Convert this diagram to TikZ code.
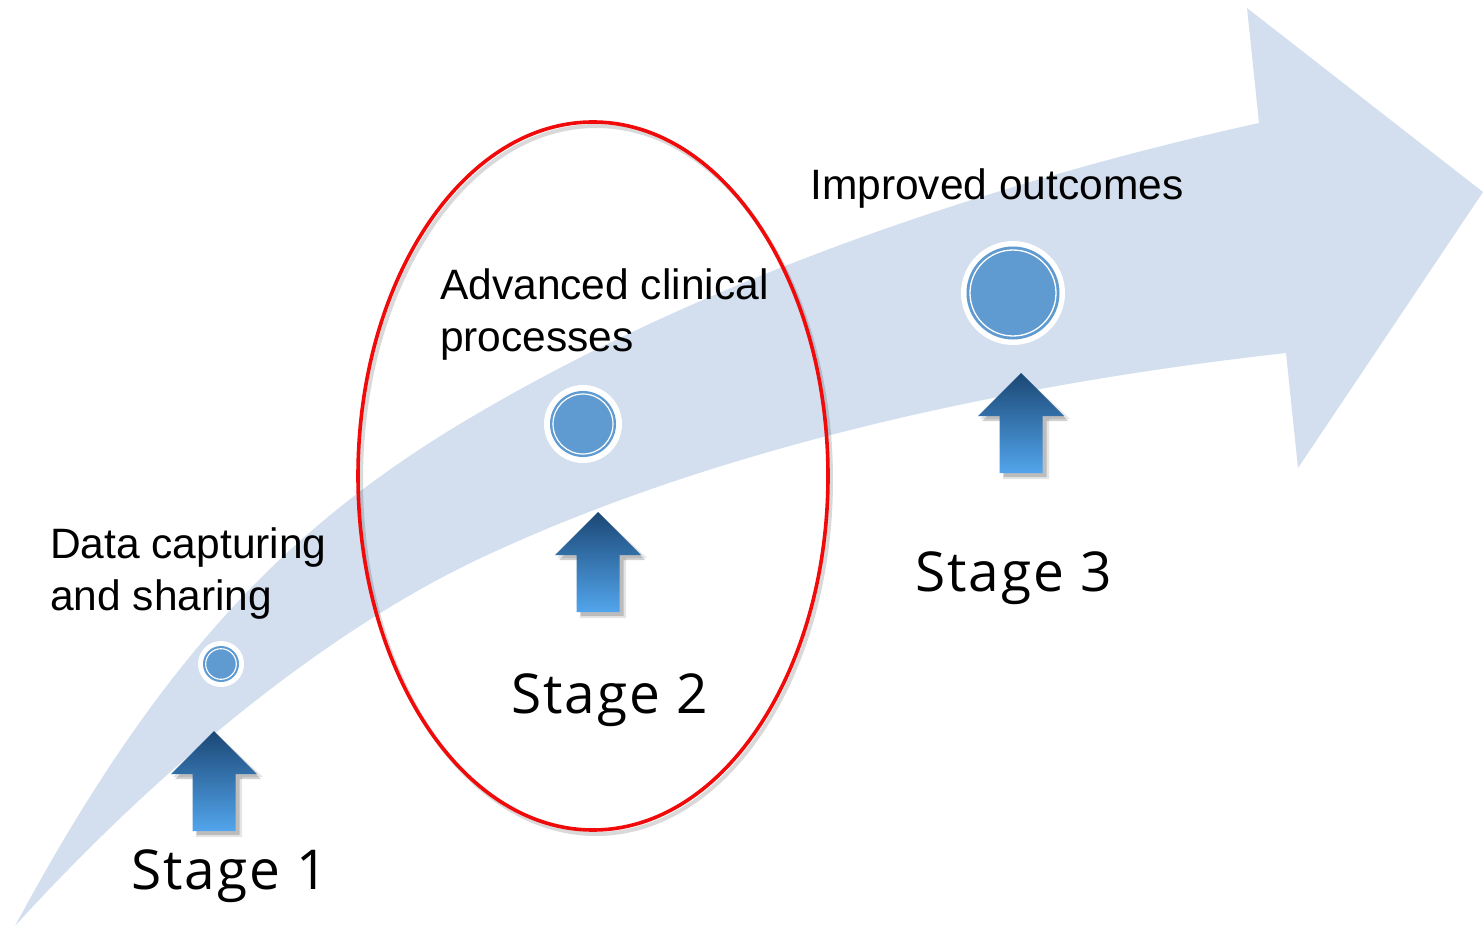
\documentclass[tikz,border=0pt]{standalone}
\usepackage{fontspec}
\usetikzlibrary{shapes.geometric}
\setmainfont{Liberation Sans}
\newfontfamily\stagefont[LetterSpace=3.5]{Open Sans}
\definecolor{bandblue}{HTML}{D3DFEE}
\definecolor{dotblue}{HTML}{5F9BD1}
\definecolor{arrowtop}{HTML}{1B4775}
\definecolor{arrowbot}{HTML}{52A5EC}
\definecolor{ringred}{HTML}{F00A0A}
\tikzset{
  desc/.style={anchor=base west, inner sep=0pt, align=left, font=\fontsize{42.5}{51.5}\selectfont, text=black},
  stagelabel/.style={anchor=base west, inner sep=0pt, font=\stagefont\fontsize{55}{60}\selectfont, text=black},
  whitedisk/.style={circle, fill=white, inner sep=0pt},
  uparrow/.pic={
    \fill[black,opacity=0.10] (3,3) -- (-41,46) -- (-18,46) -- (-18,106) -- (28,106) -- (28,46) -- (49,46) -- cycle;
    \fill[black,opacity=0.18] (4,5) -- (-39,48) -- (-17.5,48) -- (-17.5,104) -- (25.5,104) -- (25.5,48) -- (47,48) -- cycle;
    \shade[top color=arrowtop, bottom color=arrowbot] (0,0) -- (-43,43) -- (-21.5,43) -- (-21.5,100) -- (21.5,100) -- (21.5,43) -- (43,43) -- cycle;
  }
}
\begin{document}
\begin{tikzpicture}[x=1pt,y=-1pt]
\useasboundingbox (0,0) rectangle (1484,928);
% big curved arrow band
\fill[bandblue] (15,926) .. controls (155,666) and (280,535) .. (450,430)
  .. controls (700,277) and (1009,178) .. (1259,123)
  -- (1247,8) -- (1483,192) -- (1298,468) -- (1286,353)
  .. controls (1036,381) and (733,440) .. (483,557)
  .. controls (333,627) and (165,761) .. (15,926) -- cycle;
% red ellipse with faint shadow
\draw[black, opacity=0.15, line width=4pt] (596,480) ellipse (235 and 354);
\node[draw=ringred, line width=3.6pt, ellipse, minimum width=470, minimum height=708, inner sep=0pt] (ring) at (593,476) {};
% stage dots
\node[whitedisk, minimum size=46] (d1) at (221,664) {};
\fill[dotblue] (d1.center) circle (18);
\draw[white, line width=1.1pt] (d1.center) circle (15.3);
\node[whitedisk, minimum size=78] (d2) at (583,424) {};
\fill[dotblue] (d2.center) circle (33);
\draw[white, line width=1.2pt] (d2.center) circle (30);
\node[whitedisk, minimum size=104] (d3) at (1013,293) {};
\fill[dotblue] (d3.center) circle (46.5);
\draw[white, line width=1.3pt] (d3.center) circle (43);
% up arrows
\pic at (214,731) {uparrow};
\pic at (598,512) {uparrow};
\pic at (1021,373) {uparrow};
% texts
\node[desc] (t1) at (50,610) {Data capturing\\and sharing};
\node[desc] (t2) at (440,351) {Advanced clinical\\processes};
\node[desc] (t3) at (810,200) {Improved outcomes};
\node[stagelabel] (s1) at (131,889) {Stage 1};
\node[stagelabel] (s2) at (511,713) {Stage 2};
\node[stagelabel] (s3) at (915,591) {Stage 3};
\end{tikzpicture}
\end{document}
